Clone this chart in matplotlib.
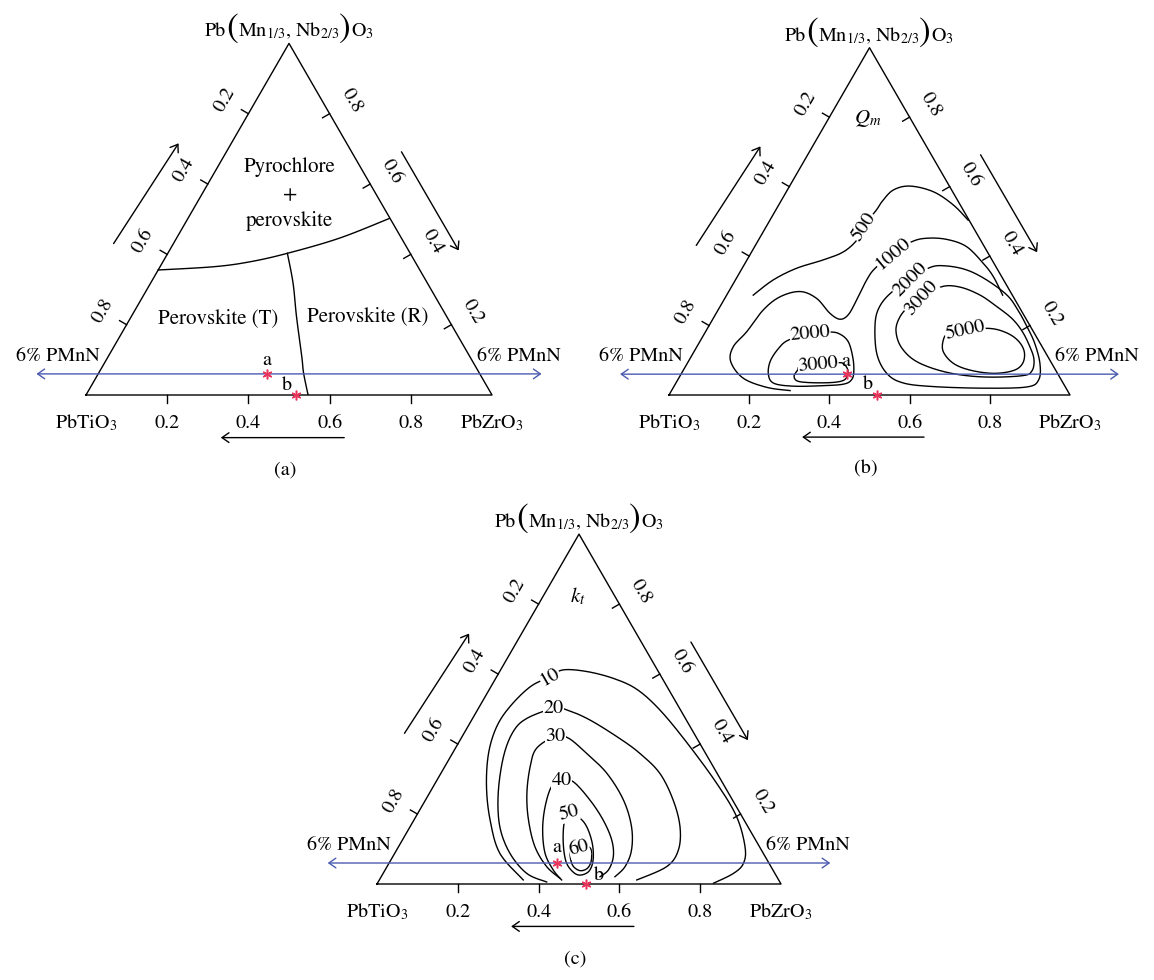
import numpy as np
import matplotlib
matplotlib.use("Agg")
import matplotlib.pyplot as plt
from matplotlib.offsetbox import TextArea, HPacker, AnnotationBbox

plt.rcParams["font.family"] = ["STIXGeneral", "DejaVu Serif"]
plt.rcParams["mathtext.fontset"] = "stix"

H = np.sqrt(3) / 2

# ---------------- data ----------------
tick_values = [0.2, 0.4, 0.6, 0.8]
tick_labels = ["0.2", "0.4", "0.6", "0.8"]
top_label_parts = ["Pb", "(", r"Mn$_{1/3}$, Nb$_{2/3}$", ")", r"O$_3$"]
left_label = r"PbTiO$_3$"
right_label = r"PbZrO$_3$"
line_label = "6% PMnN"
pmnn_fraction = 0.06
point_names = ["a", "b"]
point_zr = [0.415, 0.518]       # PbZrO3 mole fraction
point_pmnn = [0.06, 0.0]        # PMnN mole fraction

# panel (a): phase boundaries as (PbZrO3, PMnN) fractions
pyro_zr = [0.0, 0.134, 0.215, 0.2945, 0.401, 0.496]
pyro_pmnn = [0.3555, 0.365, 0.379, 0.403, 0.446, 0.502]
mpb_zr = [0.2945, 0.351, 0.407, 0.477, 0.505, 0.547]
mpb_pmnn = [0.403, 0.318, 0.223, 0.109, 0.062, 0.0]
phase_names = ["Pyrochlore", "+", "perovskite", "Perovskite (T)", "Perovskite (R)"]

# panel (b): Qm contour traces (ternary-plot x, y)
qm_levels = [500, 1000, 2000, 2000, 3000, 3000, 5000]
qm_500_x = [0.210, 0.260, 0.318, 0.385, 0.435, 0.469, 0.485, 0.517, 0.531, 0.559, 0.601, 0.659, 0.709, 0.746]
qm_500_y = [0.249, 0.287, 0.316, 0.337, 0.357, 0.387, 0.420, 0.461, 0.482, 0.511, 0.521, 0.507, 0.474, 0.436]
qm_1000_x = [0.302, 0.244, 0.185, 0.154, 0.160, 0.194, 0.235, 0.277, 0.327, 0.368, 0.401, 0.426,
             0.447, 0.468, 0.493, 0.514, 0.559, 0.605, 0.643, 0.693, 0.742, 0.784, 0.809, 0.832]
qm_1000_y = [0.011, 0.019, 0.042, 0.083, 0.120, 0.158, 0.212, 0.245, 0.258, 0.241, 0.204, 0.189,
             0.200, 0.237, 0.287, 0.316, 0.353, 0.382, 0.391, 0.388, 0.370, 0.328, 0.295, 0.249]
qm_2000L_x = [0.352, 0.401, 0.426, 0.447, 0.458, 0.461, 0.456, 0.435, 0.377, 0.310, 0.262, 0.248, 0.252, 0.273, 0.298]
qm_2000L_y = [0.152, 0.157, 0.152, 0.133, 0.096, 0.062, 0.039, 0.027, 0.023, 0.022, 0.029, 0.050, 0.083, 0.116, 0.137]
qm_3000L_x = [0.372, 0.422, 0.436, 0.446, 0.443, 0.431, 0.401, 0.352, 0.320, 0.312, 0.321, 0.327]
qm_3000L_y = [0.0765, 0.0806, 0.0773, 0.0623, 0.0441, 0.0349, 0.0308, 0.0308, 0.0349, 0.0474, 0.0623, 0.0707]
qm_2000R_x = [0.601, 0.651, 0.690, 0.742, 0.792, 0.843, 0.870, 0.893, 0.912, 0.925, 0.922, 0.892,
              0.784, 0.659, 0.584, 0.543, 0.518, 0.514, 0.526, 0.556]
qm_2000R_y = [0.287, 0.318, 0.322, 0.312, 0.287, 0.249, 0.212, 0.170, 0.129, 0.079, 0.038, 0.020,
              0.017, 0.021, 0.030, 0.054, 0.104, 0.179, 0.222, 0.257]
qm_3000R_x = [0.630, 0.680, 0.726, 0.776, 0.818, 0.855, 0.880, 0.898, 0.910, 0.905, 0.880, 0.784,
              0.695, 0.620, 0.580, 0.566, 0.576, 0.601]
qm_3000R_y = [0.241, 0.270, 0.269, 0.249, 0.220, 0.191, 0.160, 0.125, 0.090, 0.060, 0.048, 0.045,
              0.056, 0.082, 0.118, 0.160, 0.195, 0.224]
qm_5000_x = [0.738, 0.800, 0.842, 0.871, 0.886, 0.882, 0.859, 0.809, 0.751, 0.709, 0.684, 0.684, 0.697]
qm_5000_y = [0.162, 0.166, 0.155, 0.135, 0.108, 0.079, 0.061, 0.054, 0.062, 0.079, 0.108, 0.137, 0.154]

# panel (c): kt contour traces (ternary-plot x, y)
kt_levels = [10, 20, 30, 40, 50, 60]
kt_10_x = [0.362, 0.304, 0.280, 0.271, 0.276, 0.296, 0.329, 0.379, 0.428, 0.461, 0.519, 0.585,
           0.643, 0.700, 0.767, 0.841, 0.890, 0.911, 0.907, 0.882, 0.833]
kt_10_y = [0.010, 0.076, 0.158, 0.241, 0.323, 0.389, 0.439, 0.488, 0.513, 0.530, 0.526, 0.509,
           0.482, 0.431, 0.350, 0.249, 0.167, 0.092, 0.051, 0.026, 0.002]
kt_20_x = [0.420, 0.371, 0.329, 0.304, 0.300, 0.313, 0.337, 0.371, 0.438, 0.470, 0.527, 0.601,
           0.651, 0.700, 0.733, 0.750, 0.746, 0.717, 0.643]
kt_20_y = [0.005, 0.026, 0.076, 0.142, 0.224, 0.315, 0.377, 0.410, 0.435, 0.431, 0.406, 0.360,
           0.323, 0.274, 0.208, 0.142, 0.084, 0.043, 0.010]
kt_30_x = [0.453, 0.420, 0.391, 0.375, 0.371, 0.379, 0.395, 0.441, 0.474, 0.519, 0.569, 0.610,
           0.630, 0.630, 0.614, 0.589]
kt_30_y = [0.014, 0.043, 0.092, 0.158, 0.224, 0.290, 0.336, 0.365, 0.361, 0.323, 0.274, 0.208,
           0.142, 0.084, 0.043, 0.018]
kt_40_x = [0.457, 0.436, 0.416, 0.410, 0.416, 0.432, 0.457, 0.486, 0.527, 0.560, 0.581, 0.585, 0.573, 0.552]
kt_40_y = [0.010, 0.035, 0.076, 0.134, 0.191, 0.241, 0.257, 0.253, 0.208, 0.158, 0.109, 0.068, 0.035, 0.018]
kt_50_x = [0.474, 0.502, 0.520, 0.533, 0.535, 0.525, 0.503, 0.485, 0.468, 0.461, 0.463]
kt_50_y = [0.175, 0.163, 0.140, 0.100, 0.060, 0.032, 0.022, 0.030, 0.055, 0.101, 0.150]
kt_60_x = [0.500, 0.527, 0.531, 0.522, 0.503, 0.485, 0.478, 0.480]
kt_60_y = [0.088, 0.090, 0.062, 0.040, 0.033, 0.045, 0.070, 0.090]

# ---------------- helpers ----------------
BLACK = "black"
BLUE = "#4b5bb0"
RED = "#e8355c"
FS = 14.5


def tern(zr, pm):
    zr = np.asarray(zr, float)
    pm = np.asarray(pm, float)
    return zr + pm / 2, pm * H


def smooth(x, y, closed=False, n=16):
    P = np.column_stack([x, y]).astype(float)
    if closed:
        P = np.vstack([P[-1], P, P[0], P[1]])
    else:
        P = np.vstack([P[0], P, P[-1]])
    t = np.linspace(0, 1, n, endpoint=False)[:, None]
    out = []
    for i in range(1, len(P) - 2):
        p0, p1, p2, p3 = P[i - 1], P[i], P[i + 1], P[i + 2]
        seg = 0.5 * ((2 * p1) + (-p0 + p2) * t + (2 * p0 - 5 * p1 + 4 * p2 - p3) * t ** 2
                     + (-p0 + 3 * p1 - 3 * p2 + p3) * t ** 3)
        out.append(seg)
    out.append(P[-2][None, :])
    S = np.vstack(out)
    return S[:, 0], S[:, 1]


W_PX, H_PX = 1154, 980
fig = plt.figure(figsize=(W_PX / 100, H_PX / 100), dpi=100)


def top_title(ax, x, y):
    sizes = [FS, FS * 1.75, FS, FS * 1.75, FS]
    boxes = [TextArea(s, textprops=dict(fontsize=f)) for s, f in zip(top_label_parts, sizes)]
    pack = HPacker(children=boxes, align="baseline", pad=0, sep=0)
    ab = AnnotationBbox(pack, (x, y), xycoords="data", frameon=False,
                        box_alignment=(0.5, 0.5), annotation_clip=False, pad=0)
    ax.add_artist(ab)


def make_panel(left_px, bottom_px, side_px, tag, lbl_offsets):
    ax = fig.add_axes([left_px / W_PX, 1 - bottom_px / H_PX, side_px / W_PX, side_px * H / H_PX])
    ax.set_xlim(0, 1)
    ax.set_ylim(0, H)
    ax.axis("off")
    kw = dict(clip_on=False)
    ax.plot([0, 1, 0.5, 0], [0, 0, H, 0], color=BLACK, lw=1.0, zorder=3, **kw)
    nL = np.array([-np.sqrt(3) / 2, 0.5])
    nR = np.array([np.sqrt(3) / 2, 0.5])
    tl = 0.02
    for v, s in zip(tick_values, tick_labels):
        # bottom
        ax.plot([v, v], [0, -tl], color=BLACK, lw=1.0, **kw)
        ax.text(v, -0.082, s, ha="center", va="baseline", fontsize=FS)
        # left (PbTiO3 fraction)
        p = np.array([(1 - v) / 2, (1 - v) * H])
        q = p + tl * nL
        ax.plot([p[0], q[0]], [p[1], q[1]], color=BLACK, lw=1.0, **kw)
        c = p + 0.068 * nL
        ax.text(c[0], c[1], s, ha="center", va="center", rotation=60,
                rotation_mode="anchor", fontsize=FS)
        # right (PMnN fraction)
        p = np.array([1 - v / 2, v * H])
        q = p - tl * nR
        ax.plot([p[0], q[0]], [p[1], q[1]], color=BLACK, lw=1.0, **kw)
        c = p + 0.062 * nR
        ax.text(c[0], c[1], s, ha="center", va="center", rotation=-60,
                rotation_mode="anchor", fontsize=FS)
    ax.text(0.0, -0.082, left_label, ha="center", va="baseline", fontsize=FS)
    ax.text(1.0, -0.082, right_label, ha="center", va="baseline", fontsize=FS)
    top_title(ax, 0.5, 0.903)
    # direction arrows
    ap = dict(arrowstyle="->,head_length=0.5,head_width=0.35", color=BLACK, lw=1.0,
              shrinkA=0, shrinkB=0, mutation_scale=10)
    ax.annotate("", xy=(0.228, 0.62), xytext=(0.068, 0.373), arrowprops=ap, annotation_clip=False)
    ax.annotate("", xy=(0.918, 0.356), xytext=(0.777, 0.599), arrowprops=ap, annotation_clip=False)
    ax.annotate("", xy=(0.332, -0.105), xytext=(0.636, -0.105), arrowprops=ap, annotation_clip=False)
    # 6% PMnN line
    _, yl = tern(0, pmnn_fraction)
    bp = dict(arrowstyle="<->,head_length=0.5,head_width=0.35", color=BLUE, lw=1.0,
              shrinkA=0, shrinkB=0, mutation_scale=10)
    ax.annotate("", xy=(1.122, yl), xytext=(-0.122, yl), arrowprops=bp,
                annotation_clip=False, zorder=6)
    ax.text(0.035, 0.095, line_label, ha="right", va="center", fontsize=FS)
    ax.text(0.962, 0.095, line_label, ha="left", va="center", fontsize=FS)
    # points a, b
    px, py = tern(point_zr, point_pmnn)
    ax.plot(px, py, linestyle="none", marker=(6, 2, 0), ms=7, mew=1.1, color=RED,
            zorder=8, **kw)
    for name, x0, y0, (dx, dy) in zip(point_names, px, py, lbl_offsets):
        ax.text(x0 + dx, y0 + dy, name, ha="center", va="center", fontsize=FS, zorder=9)
    ax.text(0.49, -0.185, tag, ha="center", va="center", fontsize=FS)
    return ax


def draw_contour(ax, x, y, label, lx, ly, rot, closed=False):
    sx, sy = smooth(x, y, closed=closed)
    ax.plot(sx, sy, color=BLACK, lw=1.0, zorder=2, clip_on=False)
    ax.text(lx, ly, str(label), ha="center", va="center", rotation=rot, fontsize=FS,
            zorder=4, bbox=dict(fc="white", ec="none", pad=0.3))


# ---------------- panel (a) ----------------
axa = make_panel(86, 395, 406, "(a)", [(0.0, 0.034), (-0.022, 0.024)])
bx, by = tern(pyro_zr, pyro_pmnn)
sx, sy = smooth(bx, by)
axa.plot(sx, sy, color=BLACK, lw=1.0)
bx, by = tern(mpb_zr, mpb_pmnn)
sx, sy = smooth(bx, by)
axa.plot(sx, sy, color=BLACK, lw=1.0)
axa.text(0.502, 0.562, phase_names[0], ha="center", va="center", fontsize=FS + 0.5)
axa.text(0.502, 0.493, phase_names[1], ha="center", va="center", fontsize=FS + 0.5)
axa.text(0.502, 0.428, phase_names[2], ha="center", va="center", fontsize=FS + 0.5)
axa.text(0.325, 0.189, phase_names[3], ha="center", va="center", fontsize=FS + 0.5)
axa.text(0.694, 0.193, phase_names[4], ha="center", va="center", fontsize=FS + 0.5)

# ---------------- panel (b) ----------------
axb = make_panel(669, 395, 401, "(b)", [(-0.005, 0.032), (-0.022, 0.026)])
axb.text(0.4945, 0.690, r"$Q_m$", ha="center", va="center", fontsize=FS + 0.5)
draw_contour(axb, qm_500_x, qm_500_y, qm_levels[0], 0.485, 0.420, 57)
draw_contour(axb, qm_1000_x, qm_1000_y, qm_levels[1], 0.559, 0.353, 40)
draw_contour(axb, qm_2000L_x, qm_2000L_y, qm_levels[2], 0.352, 0.152, 5, closed=True)
draw_contour(axb, qm_2000R_x, qm_2000R_y, qm_levels[3], 0.601, 0.287, 45, closed=True)
draw_contour(axb, qm_3000L_x, qm_3000L_y, qm_levels[4], 0.372, 0.0765, 5, closed=True)
draw_contour(axb, qm_3000R_x, qm_3000R_y, qm_levels[5], 0.630, 0.241, 48, closed=True)
draw_contour(axb, qm_5000_x, qm_5000_y, qm_levels[6], 0.738, 0.162, 12, closed=True)

# ---------------- panel (c) ----------------
axc = make_panel(377, 884, 404, "(c)", [(0.0, 0.038), (0.031, 0.022)])
axc.text(0.498, 0.711, r"$k_t$", ha="center", va="center", fontsize=FS + 0.5)
draw_contour(axc, kt_10_x, kt_10_y, kt_levels[0], 0.428, 0.513, 30)
draw_contour(axc, kt_20_x, kt_20_y, kt_levels[1], 0.438, 0.435, 0)
draw_contour(axc, kt_30_x, kt_30_y, kt_levels[2], 0.441, 0.365, 0)
draw_contour(axc, kt_40_x, kt_40_y, kt_levels[3], 0.457, 0.257, 0)
draw_contour(axc, kt_50_x, kt_50_y, kt_levels[4], 0.474, 0.175, 15, closed=True)
draw_contour(axc, kt_60_x, kt_60_y, kt_levels[5], 0.500, 0.088, 15, closed=True)

fig.savefig("out.png", dpi=100)
